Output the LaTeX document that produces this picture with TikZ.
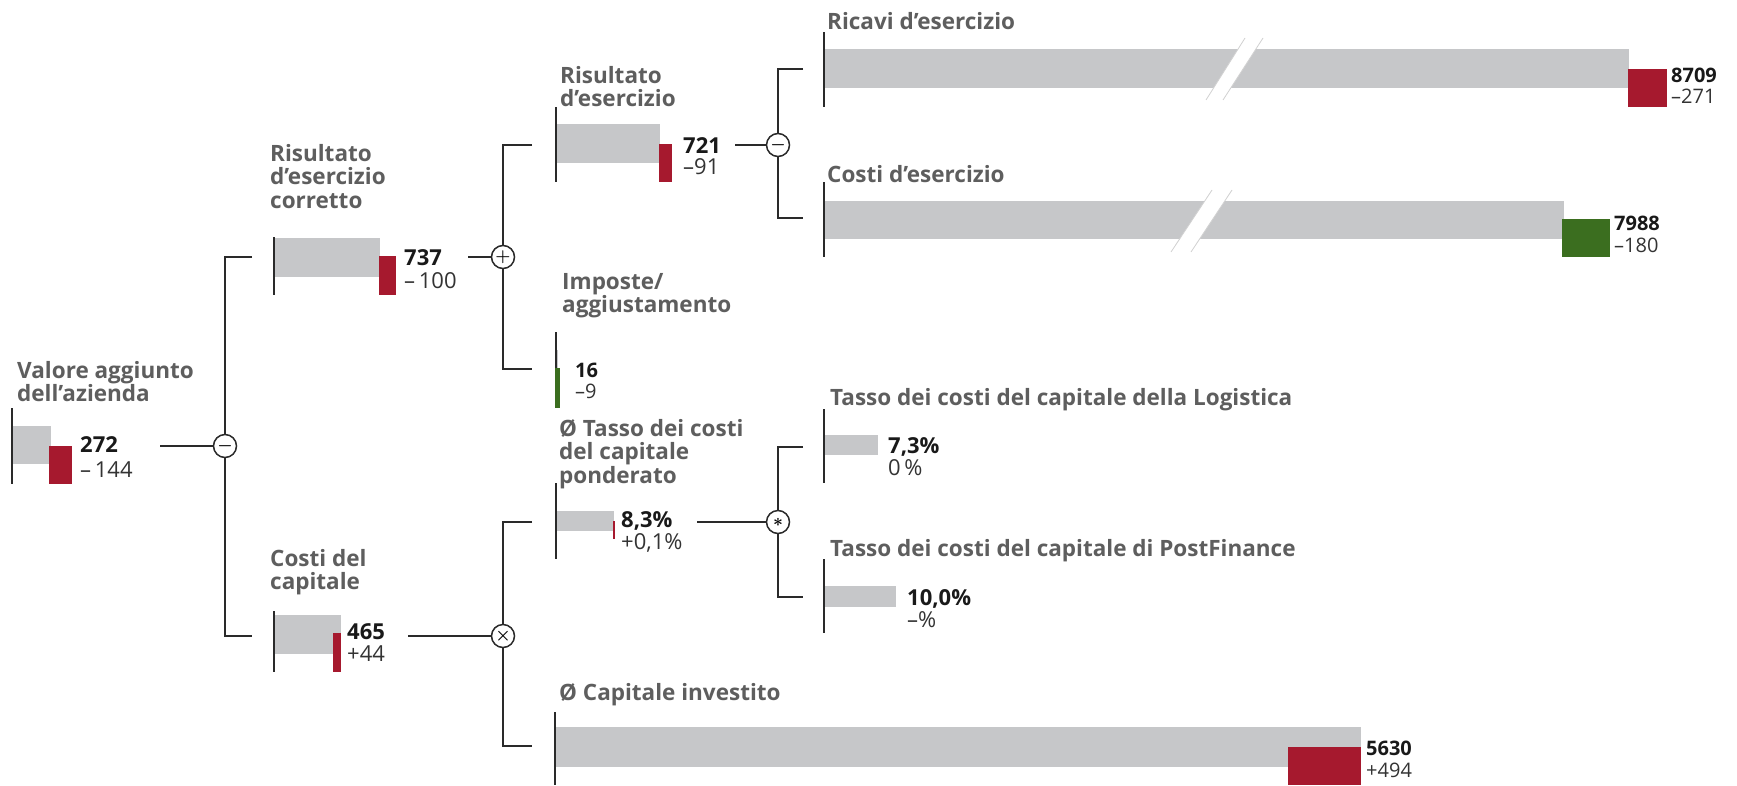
\documentclass[tikz,border=0pt]{standalone}
\usepackage{fontspec}
\setmainfont{Open Sans}
\usetikzlibrary{positioning}
\definecolor{barGrey}{HTML}{C6C7C9}
\definecolor{barRed}{HTML}{A6192E}
\definecolor{barGreen}{HTML}{3B6E1F}
\definecolor{txtGrey}{HTML}{5E5E5E}
\definecolor{lineCol}{HTML}{2A2A2A}

\begin{document}
\begin{tikzpicture}[x=1pt,y=-1pt,
    title/.style={anchor=north west,inner sep=0pt,align=left,text=txtGrey,font=\fontsize{22.5}{23.5}\selectfont\bfseries},
    value/.style={anchor=base west,inner sep=0pt,text=black!90,font=\fontsize{22}{23}\selectfont\bfseries},
    delta/.style={anchor=base west,inner sep=0pt,text=black!80,font=\fontsize{22}{23}\selectfont},
    valueS/.style={value,font=\fontsize{20}{21}\selectfont\bfseries},
    deltaS/.style={delta,font=\fontsize{20}{21}\selectfont},
    op/.style={circle,draw=lineCol,line width=1.5pt,fill=white,minimum size=23pt,inner sep=0pt,font=\fontsize{18}{18}\selectfont\boldmath},
    link/.style={draw=lineCol,line width=1.5pt},
    axis/.style={draw=lineCol,line width=1.4pt},
    cut/.style={draw=black!18,line width=0.8pt}]
    \useasboundingbox (0,0) rectangle (1737,785);

    % Valore aggiunto dell'azienda
    \node[title] (vaT) at (17,361) {Valore aggiunto\\dell’azienda};
    \fill[barGrey] (12,426) rectangle (51,464);
    \fill[barRed] (49,446) rectangle (72,484);
    \draw[axis] (12,408) -- (12,484);
    \node[value] (vaV) at (80,452) {272};
    \node[delta] (vaD) at (80,477) {–\,144};

    % Risultato d'esercizio corretto
    \node[title] (rcT) at (270,144) {Risultato\\d’esercizio\\corretto};
    \fill[barGrey] (274,238) rectangle (380,277);
    \fill[barRed] (379,256) rectangle (396,295);
    \draw[axis] (274,237) -- (274,295);
    \node[value] (rcV) at (404,265) {737};
    \node[delta] (rcD) at (404,288) {–\,100};

    % Risultato d'esercizio
    \node[title] (reT) at (560,66) {Risultato\\d’esercizio};
    \fill[barGrey] (556,124) rectangle (660,163);
    \fill[barRed] (659,144) rectangle (672,182);
    \draw[axis] (556,107) -- (556,182);
    \node[value] (reV) at (683,153) {721};
    \node[delta] (reD) at (683,174) {–91};

    % Ricavi d'esercizio
    \node[title] (rvT) at (827,12) {Ricavi d’esercizio};
    \fill[barGrey] (824,49) rectangle (1629,88);
    \fill[white] (1245,38) -- (1263,38) -- (1223,100) -- (1206,100) -- cycle;
    \draw[cut] (1245,38) -- (1206,100) (1263,38) -- (1223,100);
    \fill[barRed] (1628,69) rectangle (1667,107);
    \draw[axis] (824,32) -- (824,107);
    \node[valueS] (rvV) at (1671,82) {8709};
    \node[deltaS] (rvD) at (1671,103) {–271};

    % Costi d'esercizio
    \node[title] (ceT) at (827,165) {Costi d’esercizio};
    \fill[barGrey] (824,201) rectangle (1564,239);
    \fill[white] (1212,190) -- (1232,190) -- (1191,252) -- (1171,252) -- cycle;
    \draw[cut] (1212,190) -- (1171,252) (1232,190) -- (1191,252);
    \fill[barGreen] (1562,219) rectangle (1610,257);
    \draw[axis] (824,182) -- (824,257);
    \node[valueS] (ceV) at (1614,230) {7988};
    \node[deltaS] (ceD) at (1614,252) {–180};

    % Imposte/aggiustamento
    \node[title] (imT) at (562,273) {Imposte/\\aggiustamento};
    \fill[barGrey] (556,350) rectangle (558,388);
    \draw[axis] (556,332) -- (556,408);
    \fill[barGreen] (555,368) rectangle (560,408);
    \node[valueS] (imV) at (575,377) {16};
    \node[deltaS] (imD) at (575,398) {–9};

    % Tasso dei costi del capitale ponderato
    \node[title] (tpT) at (559,419) {Ø Tasso dei costi\\del capitale\\ponderato};
    \fill[barGrey] (556,511) rectangle (614,531);
    \fill[barRed] (612.5,521) rectangle (614.5,539);
    \draw[axis] (556,483) -- (556,559);
    \node[value] (tpV) at (621,527) {8,3\%};
    \node[delta] (tpD) at (621,549) {+0,1\%};

    % Tasso Logistica
    \node[title] (tlT) at (830,388) {Tasso dei costi del capitale della Logistica};
    \fill[barGrey] (824,435) rectangle (878,455);
    \draw[axis] (824,409) -- (824,483);
    \node[value] (tlV) at (888,453) {7,3\%};
    \node[delta] (tlD) at (888,475) {0\,\%};

    % Tasso PostFinance
    \node[title] (tfT) at (830,539) {Tasso dei costi del capitale di PostFinance};
    \fill[barGrey] (824,586) rectangle (896,607);
    \draw[axis] (824,559) -- (824,633);
    \node[value] (tfV) at (907,605) {10,0\%};
    \node[delta] (tfD) at (907,627) {–\%};

    % Costi del capitale
    \node[title] (ccT) at (270,549) {Costi del\\capitale};
    \fill[barGrey] (274,615) rectangle (341,654);
    \fill[barRed] (333,633) rectangle (341,672);
    \draw[axis] (274,611) -- (274,672);
    \node[value] (ccV) at (347,639) {465};
    \node[delta] (ccD) at (347,661) {+44};

    % Capitale investito
    \node[title] (ciT) at (559,683) {Ø Capitale investito};
    \fill[barGrey] (555,727) rectangle (1361,767);
    \fill[barRed] (1288,747) rectangle (1361,785);
    \draw[axis] (555,712) -- (555,785);
    \node[valueS] (ciV) at (1366,755) {5630};
    \node[deltaS] (ciD) at (1366,777) {+494};

    % operators
    \node[op] (opA) at (225,446) {$-$};
    \node[op] (opB) at (503,257) {$+$};
    \node[op] (opC) at (778,145) {$-$};
    \node[op] (opG) at (778,522) {$*$};
    \node[op] (opJ) at (503,636) {$\times$};

    \coordinate (a0) at (160,446);
    \coordinate (b0) at (468,257);
    \coordinate (c0) at (735,145);
    \coordinate (g0) at (697,522);
    \coordinate (j0) at (408,636);
    \draw[link] (a0) -- (opA);
    \draw[link] (b0) -- (opB);
    \draw[link] (c0) -- (opC);
    \draw[link] (g0) -- (opG);
    \draw[link] (j0) -- (opJ);

    % brackets
    \coordinate (aT) at (252,257); \coordinate (aB) at (252,636);
    \coordinate (bT) at (532,145); \coordinate (bB) at (532,369);
    \coordinate (cT) at (803,69);  \coordinate (cB) at (803,218);
    \coordinate (gT) at (803,447); \coordinate (gB) at (803,597);
    \coordinate (jT) at (532,522); \coordinate (jB) at (532,746);
    \draw[link] (aT) -| (opA.north); \draw[link] (opA.south) |- (aB);
    \draw[link] (bT) -| (opB.north); \draw[link] (opB.south) |- (bB);
    \draw[link] (cT) -| (opC.north); \draw[link] (opC.south) |- (cB);
    \draw[link] (gT) -| (opG.north); \draw[link] (opG.south) |- (gB);
    \draw[link] (jT) -| (opJ.north); \draw[link] (opJ.south) |- (jB);
\end{tikzpicture}
\end{document}
